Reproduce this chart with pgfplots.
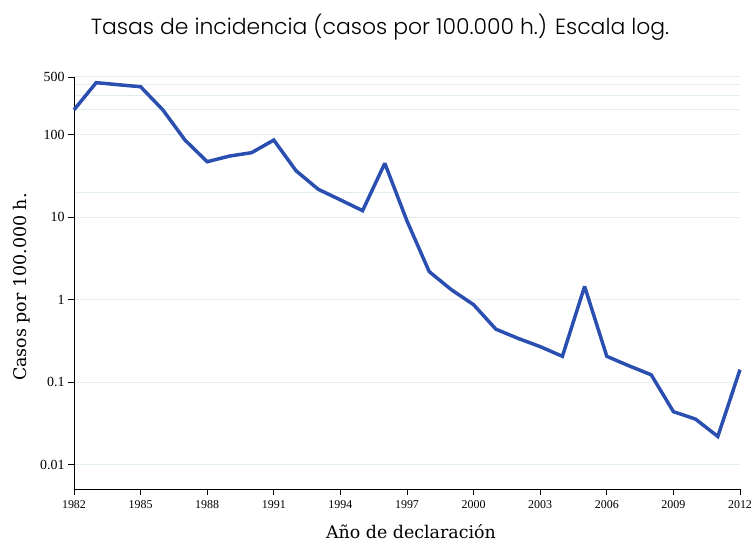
\documentclass[border=0pt]{standalone}
\usepackage{pgfplots}
\pgfplotsset{compat=1.18}
\usepackage{fontspec}
\setmainfont{Liberation Serif}
\newfontfamily\titlefont{Poppins Light}
\newfontfamily\labelfont{DejaVu Serif}

\definecolor{serie}{RGB}{42,79,176}
\definecolor{rejilla}{RGB}{226,237,237}

\begin{document}
\begin{tikzpicture}
\begin{axis}[
  name=ax,
  scale only axis,
  width=666bp, height=412bp,
  ymode=log,
  xmin=1982, xmax=2012,
  ymin=0.00508, ymax=500,
  axis lines*=left,
  axis line style={black, line width=0.9pt},
  tick align=outside,
  major tick length=6bp,
  minor tick length=0pt,
  tick style={black, line width=0.9pt},
  xtick={1982,1985,...,2012},
  ytick={0.01,0.1,1,10,100,500},
  yticklabels={0.01,0.1,1,10,100,500},
  ymajorgrids=true,
  major grid style={rejilla, line width=1pt},
  /pgf/number format/assume math mode=true,
  /pgf/number format/1000 sep={},
  x tick label style={font=\fontsize{12}{13}\selectfont, yshift=-2bp},
  y tick label style={font=\fontsize{14}{15}\selectfont},
  xlabel={Año de declaración},
  ylabel={Casos por 100.000 h.},
  xlabel style={font=\labelfont\fontsize{17.5}{20}\selectfont,
    at={(axis description cs:0.506,-0.121)}, anchor=base},
  ylabel style={font=\labelfont\fontsize{17.5}{20}\selectfont,
    at={(axis description cs:-0.0706,0.49)}, anchor=base},
  clip=false,
]
% extra grid lines without tick marks (kept clear of the y axis line)
\addplot[rejilla, line width=1pt, forget plot] coordinates {(1982.06,20) (2012,20)};
\addplot[rejilla, line width=1pt, forget plot] coordinates {(1982.06,200) (2012,200)};
\addplot[rejilla, line width=1pt, forget plot] coordinates {(1982.06,300) (2012,300)};
\addplot[rejilla, line width=1pt, forget plot] coordinates {(1982.06,400) (2012,400)};

\addplot[serie, line width=3.5pt, line join=miter, miter limit=2] coordinates {
(1982,200) (1983,427) (1984,403) (1985,381) (1986,200) (1987,86)
(1988,47) (1989,55) (1990,60.5) (1991,86) (1992,36.6) (1993,21.8)
(1994,16.2) (1995,12.0) (1996,45) (1997,9) (1998,2.19) (1999,1.32)
(2000,0.87) (2001,0.44) (2002,0.34) (2003,0.27) (2004,0.206) (2005,1.45)
(2006,0.206) (2007,0.158) (2008,0.123) (2009,0.044) (2010,0.0357)
(2011,0.022) (2012,0.142)
};
\end{axis}
\node[font=\titlefont\fontsize{22}{26}\selectfont, anchor=center]
  at ([shift={(306bp,462bp)}]ax.south west) {Tasas de incidencia (casos por 100.000 h.) Escala log.};
\pgfresetboundingbox
\path[use as bounding box] ([shift={(-74bp,-55bp)}]ax.south west) rectangle ([shift={(12bp,77bp)}]ax.north east);
\end{tikzpicture}
\end{document}
